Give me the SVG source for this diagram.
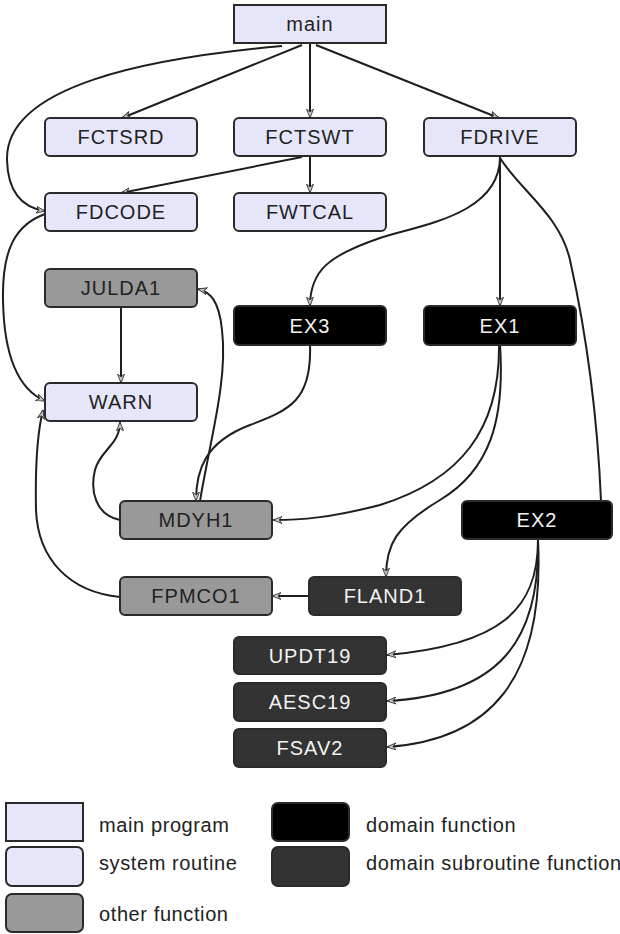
<svg xmlns="http://www.w3.org/2000/svg" width="620" height="934" viewBox="0 0 620 934">
<style>
  .box { stroke: #2a2a2a; stroke-width: 2; }
  .main { fill: #e6e6fa; }
  .sys { fill: #e6e6fa; }
  .other { fill: #999999; }
  .dom { fill: #000000; }
  .sub { fill: #333333; }
  .lbl { font-family: "Liberation Sans", Arial, sans-serif; font-size: 20px; text-anchor: middle; fill: #222; letter-spacing: 1px; }
  .lblw { font-family: "Liberation Sans", Arial, sans-serif; font-size: 20px; text-anchor: middle; fill: #f2f2f2; letter-spacing: 1px; }
  .leg { font-family: "Liberation Sans", Arial, sans-serif; font-size: 20px; fill: #222; letter-spacing: 0.6px; }
  .edge { fill: none; stroke: #1e1e1e; stroke-width: 2; marker-end: url(#arr); }
  .edgen { fill: none; stroke: #1e1e1e; stroke-width: 2; }
</style>
<defs>
  <marker id="arr" markerUnits="userSpaceOnUse" markerWidth="12" markerHeight="8" refX="9" refY="4" orient="auto">
    <path d="M0,0.5 L9,4 L0,7.5 L3,4 Z" fill="#c8c8c8" stroke="#333" stroke-width="0.9"/>
  </marker>
</defs>
<rect width="620" height="934" fill="#ffffff"/>

<g id="connectors">
  <path class="edge" d="M302,45 L122,118"/>
  <path class="edge" d="M310,43 L310,118"/>
  <path class="edge" d="M316,45 L499,118"/>
  <path class="edge" d="M282,46 C150,58 5,85 7,160 C8,195 25,208 45,211"/>
  <path class="edge" d="M302,157 L121,193"/>
  <path class="edge" d="M310,156 L310,193"/>
  <path class="edge" d="M45,214 C15,225 2,250 3,300 C4,360 20,390 45,401"/>
  <path class="edge" d="M121,307 L121,383"/>
  <path class="edge" d="M500,157 C500,215 420,225 380,238 C330,255 310,270 310,306"/>
  <path class="edge" d="M500,157 L500,306"/>
  <path class="edgen" d="M500,158 C520,190 560,215 570,260 C590,350 598,430 601,501"/>
  <path class="edge" d="M310,345 C312,400 290,410 250,425 C205,442 196,470 196,501"/>
  <path class="edge" d="M200,501 C210,440 228,380 222,330 C219,300 210,292 198,289"/>
  <path class="edge" d="M120,520 C95,515 90,490 95,470 C100,450 120,445 120,422"/>
  <path class="edge" d="M499,345 C500,430 460,480 380,505 C330,518 300,520 273,520"/>
  <path class="edge" d="M500,345 C505,420 490,470 440,500 C395,527 386,545 386,577"/>
  <path class="edge" d="M309,596 L272,596"/>
  <path class="edge" d="M120,597 C70,592 38,560 36,510 C35,460 38,430 43,410"/>
  <path class="edge" d="M538,540 C538,610 500,645 387,655"/>
  <path class="edge" d="M538,540 C540,640 500,695 387,701"/>
  <path class="edge" d="M538,540 C545,680 490,740 387,747"/>
</g>

<g id="main"><rect class="box main" x="234" y="5" width="152" height="38"/><text class="lbl" x="310" y="31">main</text></g>
<g id="FCTSRD"><rect class="box sys" x="45" y="118" width="152" height="38" rx="5"/><text class="lbl" x="121" y="144">FCTSRD</text></g>
<g id="FCTSWT"><rect class="box sys" x="234" y="118" width="152" height="38" rx="5"/><text class="lbl" x="310" y="144">FCTSWT</text></g>
<g id="FDRIVE"><rect class="box sys" x="424" y="118" width="152" height="38" rx="5"/><text class="lbl" x="500" y="144">FDRIVE</text></g>
<g id="FDCODE"><rect class="box sys" x="45" y="193" width="152" height="38" rx="5"/><text class="lbl" x="121" y="219">FDCODE</text></g>
<g id="FWTCAL"><rect class="box sys" x="234" y="193" width="152" height="38" rx="5"/><text class="lbl" x="310" y="219">FWTCAL</text></g>
<g id="JULDA1"><rect class="box other" x="45" y="269" width="152" height="38" rx="5"/><text class="lbl" x="121" y="295">JULDA1</text></g>
<g id="EX3"><rect class="box dom" x="234" y="306" width="152" height="39" rx="5"/><text class="lblw" x="310" y="333">EX3</text></g>
<g id="EX1"><rect class="box dom" x="424" y="306" width="152" height="39" rx="5"/><text class="lblw" x="500" y="333">EX1</text></g>
<g id="WARN"><rect class="box sys" x="45" y="383" width="152" height="38" rx="5"/><text class="lbl" x="121" y="409">WARN</text></g>
<g id="MDYH1"><rect class="box other" x="120" y="501" width="152" height="38" rx="5"/><text class="lbl" x="196" y="527">MDYH1</text></g>
<g id="EX2"><rect class="box dom" x="462" y="501" width="150" height="38" rx="5"/><text class="lblw" x="537" y="527">EX2</text></g>
<g id="FPMCO1"><rect class="box other" x="120" y="577" width="152" height="38" rx="5"/><text class="lbl" x="196" y="603">FPMCO1</text></g>
<g id="FLAND1"><rect class="box sub" x="309" y="577" width="152" height="38" rx="5"/><text class="lblw" x="385" y="603">FLAND1</text></g>
<g id="UPDT19"><rect class="box sub" x="234" y="637" width="152" height="37" rx="5"/><text class="lblw" x="310" y="663">UPDT19</text></g>
<g id="AESC19"><rect class="box sub" x="234" y="683" width="152" height="38" rx="5"/><text class="lblw" x="310" y="709">AESC19</text></g>
<g id="FSAV2"><rect class="box sub" x="234" y="729" width="152" height="38" rx="5"/><text class="lblw" x="310" y="755">FSAV2</text></g>

<g id="legend">
  <rect class="box main" x="6" y="803" width="77" height="38"/>
  <text class="leg" x="99" y="832">main program</text>
  <rect class="box sys" x="6" y="847" width="77" height="39" rx="6"/>
  <text class="leg" x="99" y="870">system routine</text>
  <rect class="box other" x="6" y="894" width="77" height="38" rx="6"/>
  <text class="leg" x="99" y="921">other function</text>
  <rect class="box dom" x="272" y="803" width="77" height="38" rx="6"/>
  <text class="leg" x="366" y="832">domain function</text>
  <rect class="box sub" x="272" y="847" width="77" height="39" rx="6"/>
  <text class="leg" x="366" y="870">domain subroutine function</text>
</g>
</svg>
